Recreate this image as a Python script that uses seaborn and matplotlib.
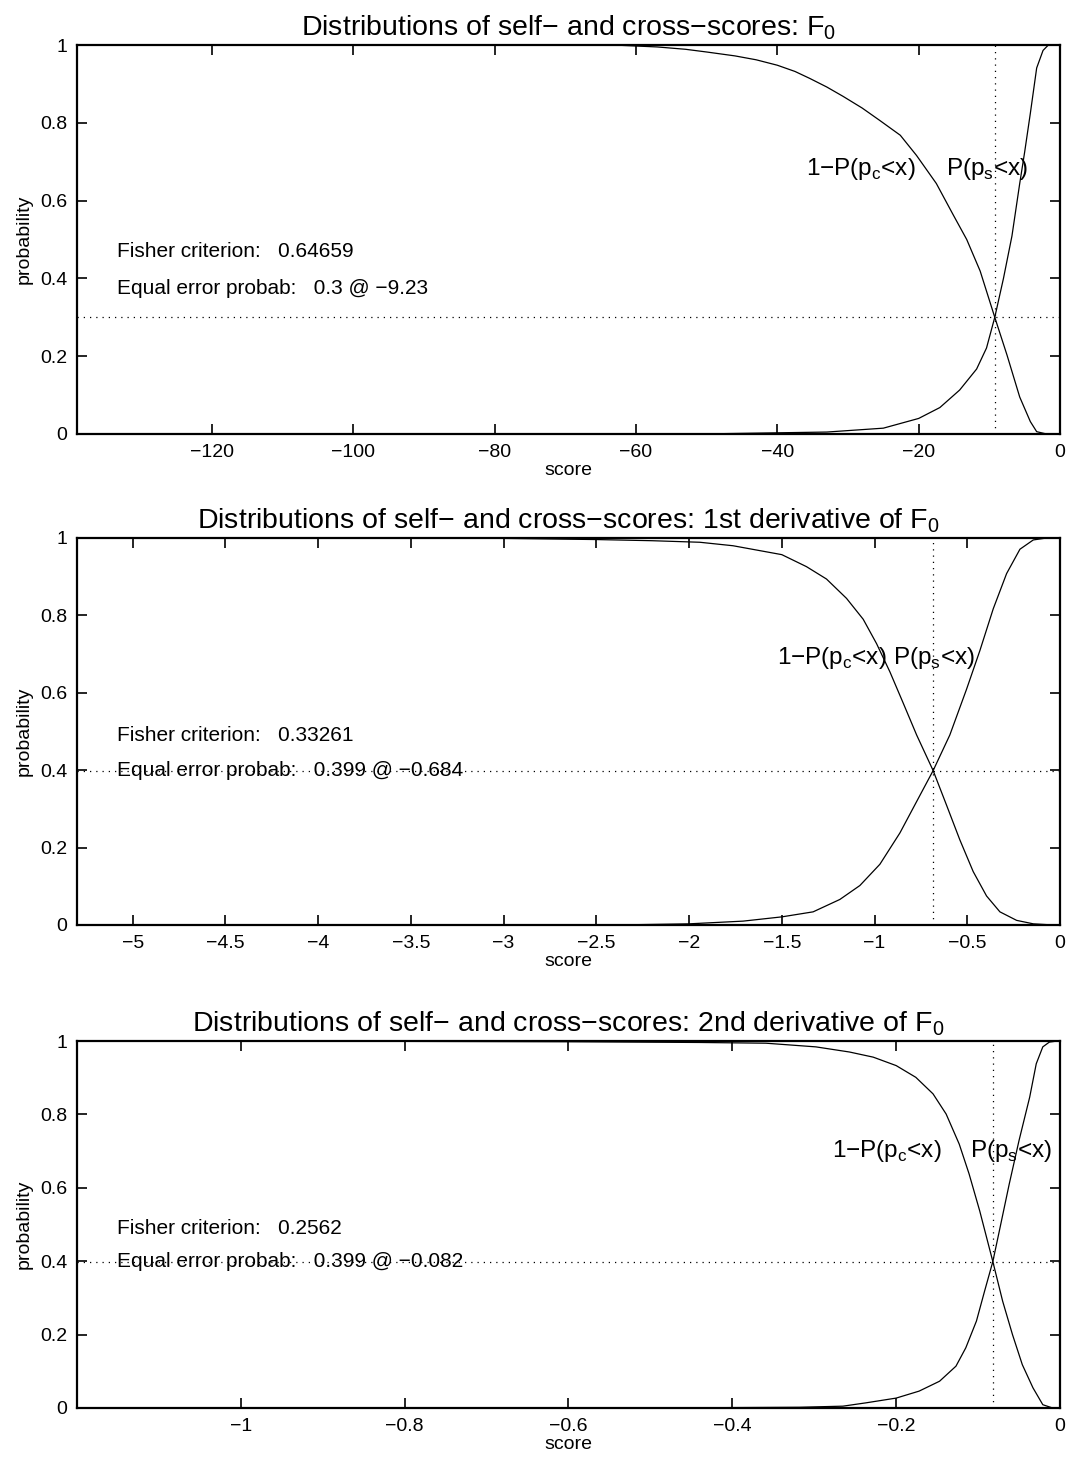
import numpy as np
import pandas as pd
import matplotlib
matplotlib.use("Agg")
import matplotlib.pyplot as plt
import seaborn as sns

# ---- data ----
titles = ["Distributions of self\u2212 and cross\u2212scores: $\\mathregular{F_0}$",
          "Distributions of self\u2212 and cross\u2212scores: 1st derivative of $\\mathregular{F_0}$",
          "Distributions of self\u2212 and cross\u2212scores: 2nd derivative of $\\mathregular{F_0}$"]
xmins = [-139.1, -5.3, -1.2]
fisher = ["0.64659", "0.33261", "0.2562"]
eer_prob = [0.3, 0.399, 0.399]
eer_score = [-9.23, -0.684, -0.082]
eer_text = ["0.3 @ \u22129.23", "0.399 @ \u22120.684", "0.399 @ \u22120.082"]

f0_cross_x = [-139.1, -62, -57, -53, -50, -46, -43, -40, -37.5, -35.4, -33, -30.7, -28, -25.5,
              -22.6, -20.3, -17.5, -15.1, -13.2, -11.3, -9.23, -7.5, -5.7, -4.2, -3.3, -1.9, 0]
f0_cross_y = [1, 0.999, 0.995, 0.989, 0.982, 0.972, 0.962, 0.948, 0.932, 0.914, 0.892, 0.868,
              0.838, 0.806, 0.768, 0.716, 0.644, 0.563, 0.5, 0.419, 0.3, 0.203, 0.095, 0.032,
              0.006, 0, 0]
f0_self_x = [-139.1, -51, -33, -25, -20, -17, -14.2, -11.8, -10.4, -9.23, -8.0, -6.8, -5.7, -5.0,
             -4.2, -3.3, -2.4, -1.65, 0]
f0_self_y = [0, 0, 0.005, 0.015, 0.04, 0.068, 0.113, 0.167, 0.221, 0.3, 0.4, 0.509, 0.644, 0.725,
             0.824, 0.941, 0.986, 1.0, 1.0]

d1_cross_x = [-5.3, -3.0, -2.5, -2.2, -1.942, -1.763, -1.5, -1.367, -1.259, -1.151, -1.061, -0.989,
              -0.917, -0.845, -0.773, -0.684, -0.612, -0.540, -0.468, -0.396, -0.324, -0.234,
              -0.144, -0.036, 0]
d1_cross_y = [1, 0.999, 0.996, 0.993, 0.989, 0.980, 0.957, 0.926, 0.894, 0.844, 0.790, 0.727,
              0.654, 0.573, 0.491, 0.399, 0.310, 0.220, 0.138, 0.075, 0.034, 0.012,
              0.003, 0, 0]
d1_self_x = [-5.3, -2.4, -2.0, -1.709, -1.5, -1.331, -1.187, -1.079, -0.971, -0.863, -0.773, -0.684,
             -0.594, -0.504, -0.432, -0.360, -0.288, -0.216, -0.144, -0.072, 0]
d1_self_y = [0, 0, 0.003, 0.010, 0.021, 0.034, 0.066, 0.102, 0.157, 0.238, 0.319, 0.399,
             0.491, 0.609, 0.709, 0.817, 0.908, 0.971, 0.995, 1.0, 1.0]

d2_cross_x = [-1.2, -0.8, -0.6, -0.44, -0.359, -0.298, -0.257, -0.228, -0.2, -0.176, -0.155,
              -0.139, -0.123, -0.111, -0.098, -0.082, -0.070, -0.058, -0.046, -0.033, -0.021,
              -0.009, 0]
d2_cross_y = [1, 0.999, 0.998, 0.996, 0.994, 0.984, 0.970, 0.956, 0.933, 0.901, 0.856,
              0.801, 0.719, 0.638, 0.537, 0.399, 0.291, 0.200, 0.118, 0.055, 0.009,
              0, 0]
d2_self_x = [-1.2, -0.5, -0.318, -0.265, -0.237, -0.2, -0.172, -0.147, -0.127, -0.115, -0.102,
             -0.092, -0.082, -0.074, -0.062, -0.050, -0.037, -0.029, -0.021, -0.013, -0.003, 0]
d2_self_y = [0, 0, 0.002, 0.005, 0.014, 0.027, 0.046, 0.073, 0.114, 0.164, 0.237,
             0.319, 0.399, 0.483, 0.610, 0.729, 0.847, 0.938, 0.984, 0.997, 1.0, 1.0]

xticks = [np.arange(-120, 1, 20), np.arange(-5, 0.01, 0.5), np.arange(-1, 0.01, 0.2)]
cross_lbl_x = [0.742, 0.712, 0.768]
self_lbl_x = [0.884, 0.830, 0.908]
lbl_y = [0.68, 0.69, 0.70]
fisher_y = [0.47, 0.49, 0.49]
eer_y = [0.375, 0.40, 0.40]

curves = [(f0_cross_x, f0_cross_y, f0_self_x, f0_self_y),
          (d1_cross_x, d1_cross_y, d1_self_x, d1_self_y),
          (d2_cross_x, d2_cross_y, d2_self_x, d2_self_y)]

# ---- style ----
sns.set_style("ticks")
plt.rcParams['font.family'] = ['Liberation Sans', 'DejaVu Sans']
plt.rcParams['mathtext.fontset'] = 'custom'
plt.rcParams['mathtext.rm'] = 'Liberation Sans'
plt.rcParams['axes.unicode_minus'] = True
for k in ['text.color', 'axes.labelcolor', 'xtick.color', 'ytick.color', 'axes.edgecolor']:
    plt.rcParams[k] = 'black'

W, H = 1071, 1464
fig = plt.figure(figsize=(W / 100, H / 100), dpi=100)
boxes = [(45, 434), (538, 925), (1041, 1408)]   # top/bottom in pixels
left_px, right_px = 77, 1060

def fmt(v):
    s = ("%g" % (round(v, 6) + 0.0))
    return s.replace("-", "\u2212")

for i in range(3):
    top, bot = boxes[i]
    ax = fig.add_axes([left_px / W, 1 - bot / H, (right_px - left_px) / W, (bot - top) / H])
    cx, cy, sx, sy = curves[i]
    df_c = pd.DataFrame({"score": cx, "p": cy})
    df_s = pd.DataFrame({"score": sx, "p": sy})
    sns.lineplot(data=df_c, x="score", y="p", ax=ax, color="black", lw=0.9, sort=False)
    sns.lineplot(data=df_s, x="score", y="p", ax=ax, color="black", lw=0.9, sort=False)

    # equal error guide lines
    ax.axhline(eer_prob[i], color="black", lw=0.9, ls=(0, (1, 4)))
    ax.axvline(eer_score[i], color="black", lw=0.9, ls=(0, (1, 4)))

    ax.set_xlim(xmins[i], 0)
    ax.set_ylim(0, 1)
    ax.set_xticks(xticks[i])
    ax.set_xticklabels([fmt(v) for v in xticks[i]])
    ax.set_yticks([0, 0.2, 0.4, 0.6, 0.8, 1])
    ax.set_yticklabels(["0", "0.2", "0.4", "0.6", "0.8", "1"])
    ax.tick_params(direction="in", top=True, right=True, length=7, width=1.2,
                   labelsize=14, pad=7)
    for sp in ax.spines.values():
        sp.set_visible(True)
        sp.set_linewidth(1.6)

    ax.set_title(titles[i], fontsize=20.5, pad=7)
    ax.set_xlabel("score", fontsize=14, labelpad=1)
    ax.set_ylabel("probability", fontsize=14, labelpad=5)

    tr = ax.get_yaxis_transform()
    ax.text(0.041, fisher_y[i], "Fisher criterion:   " + fisher[i], transform=tr,
            fontsize=15, va="center", ha="left")
    ax.text(0.041, eer_y[i], "Equal error probab:   " + eer_text[i], transform=tr,
            fontsize=15, va="center", ha="left")
    ax.text(cross_lbl_x[i], lbl_y[i], "1\u2212P(p$_\\mathregular{c}$<x)", transform=tr,
            fontsize=17.5, va="center", ha="left")
    ax.text(self_lbl_x[i], lbl_y[i], "P(p$_\\mathregular{s}$<x)", transform=tr,
            fontsize=17.5, va="center", ha="left")

fig.savefig("out.png", dpi=100)
